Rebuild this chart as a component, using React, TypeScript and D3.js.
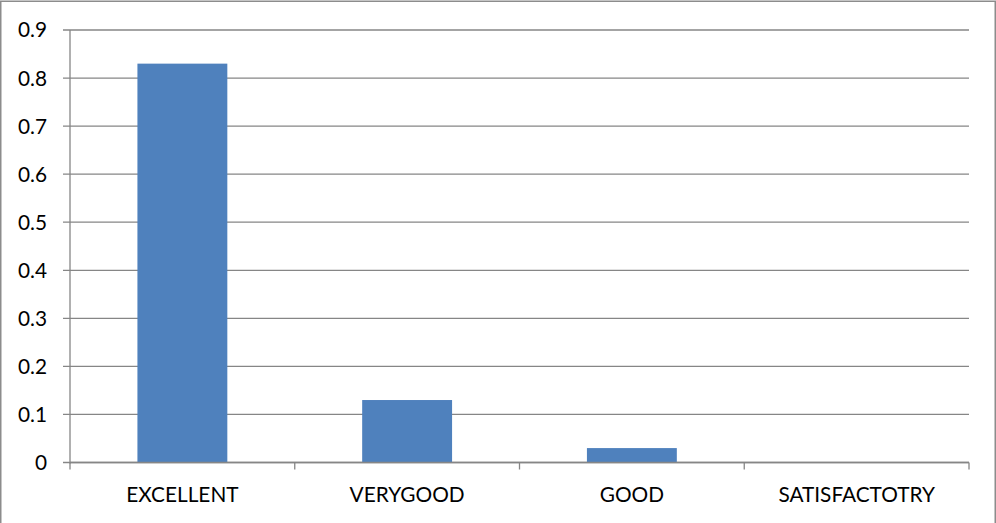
import React from "react";
import * as d3 from "d3";

const categories = ["EXCELLENT", "VERYGOOD", "GOOD", "SATISFACTOTRY"];
const values = [0.83, 0.13, 0.03, 0];
const yTicks = [0, 0.1, 0.2, 0.3, 0.4, 0.5, 0.6, 0.7, 0.8, 0.9];

const W = 996;
const H = 523;
const left = 70;
const right = 969;
const top = 30;
const bottom = 462.5;

export default function App() {
  const x = d3.scaleBand<string>().domain(categories).range([left, right]).paddingInner(0.6).paddingOuter(0.3);
  const xb = d3.scaleBand<string>().domain(categories).range([left, right]);
  const y = d3.scaleLinear().domain([0, 0.9]).range([bottom, top]);
  const grid = "#868686";
  const font = "Lato, 'Open Sans', sans-serif";
  return (
    <div style={{ position: "absolute", left: 0, top: 0 }}>
      <svg width={W} height={H} style={{ display: "block" }}>
        <rect x={0} y={0} width={W} height={H} fill="#fff" />
        <path d={`M0.75,${H + 5} V1.25 H995.25 V${H + 5}`} fill="none" stroke="#8c8c8c" strokeWidth={1.5} />
        {yTicks.map((t) => (
          <g key={t}>
            <line x1={left - 7} x2={right} y1={y(t)} y2={y(t)} stroke={grid} strokeWidth={1.3} />
            <text x={47} y={y(t)} dy="0.36em" textAnchor="end" fontFamily={font} fontSize={20.8} fill="#000">
              {d3.format("")(t)}
            </text>
          </g>
        ))}
        <line x1={left} x2={left} y1={top} y2={bottom + 1} stroke={grid} strokeWidth={1.3} />
        {categories.map((c, i) => (
          <rect key={c} x={x(c)} width={x.bandwidth()} y={y(values[i])} height={bottom - y(values[i])} fill="#4F81BD" />
        ))}
        <line x1={left} x2={right} y1={bottom} y2={bottom} stroke={grid} strokeWidth={1.5} />
        {categories.map((c, i) => (
          <line key={c} x1={(xb(c) as number) + xb.bandwidth()} x2={(xb(c) as number) + xb.bandwidth()} y1={bottom} y2={bottom + 7} stroke={grid} strokeWidth={1.3} />
        ))}
        <line x1={left} x2={left} y1={bottom} y2={bottom + 7} stroke={grid} strokeWidth={1.3} />
        {categories.map((c) => (
          <text key={c} x={(xb(c) as number) + xb.bandwidth() / 2} y={502} textAnchor="middle" fontFamily={font} fontSize={20.8} fill="#000">
            {c}
          </text>
        ))}
      </svg>
    </div>
  );
}
